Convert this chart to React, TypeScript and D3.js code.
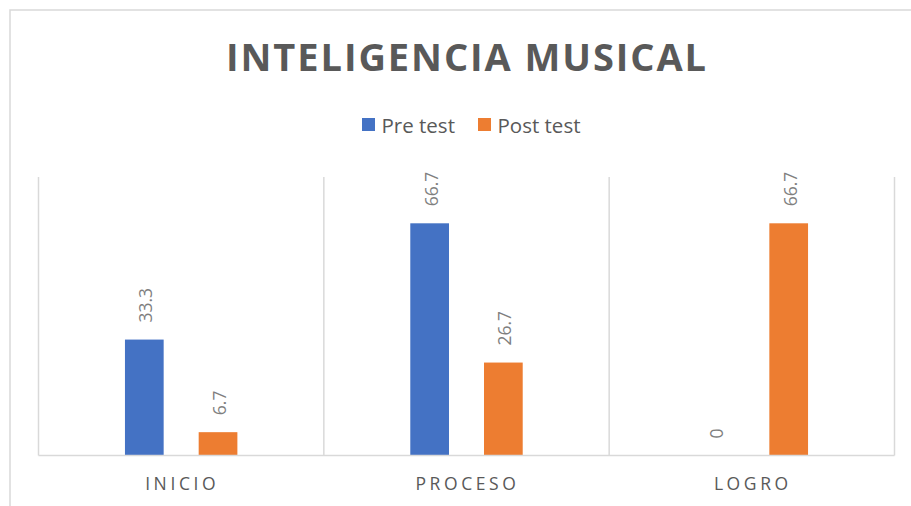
import React from "react";
import * as d3 from "d3";

const categories = ["INICIO", "PROCESO", "LOGRO"];
const seriesNames = ["Pre test", "Post test"];
const preTest = [33.3, 66.7, 0];
const postTest = [6.7, 26.7, 66.7];
const seriesColors = ["#4472C4", "#ED7D31"];
const yMax = 80;

const W = 911;
const H = 506;
const plotLeft = 38.5;
const plotRight = 894.5;
const plotTop = 177;
const plotBottom = 455.5;
const textColor = "#595959";
const labelColor = "#7F7F7F";
const gridColor = "#D9D9D9";
const font = "'Open Sans', 'Noto Sans', sans-serif";

export default function App() {
  const x0 = d3.scaleBand<string>().domain(categories).range([plotLeft, plotRight]).padding(0);
  const y = d3.scaleLinear().domain([0, yMax]).range([plotBottom, plotTop]);
  const bw0 = x0.bandwidth();
  const groupFrac = 0.394;
  const values = [preTest, postTest];

  const boundaries = [...categories.map((c) => x0(c) as number), plotRight];

  return (
    <svg width={W} height={H} style={{ position: "absolute", left: 0, top: 0, background: "#fff" }}>
      <rect x={10} y={10} width={W} height={H} fill="#fff" stroke={gridColor} strokeWidth={1.5} />
      <text
        x={466}
        y={71}
        textAnchor="middle"
        fontFamily={font}
        fontWeight={700}
        fontSize={38}
        fill={textColor}
        textLength={480}
        lengthAdjust="spacing"
      >
        INTELIGENCIA MUSICAL
      </text>
      {/* legend */}
      <g fontFamily={font} fontSize={20.5} fill={textColor}>
        <rect x={362} y={118} width={13} height={13} fill={seriesColors[0]} />
        <text x={381.5} y={132.5}>{seriesNames[0]}</text>
        <rect x={478} y={118} width={13} height={13} fill={seriesColors[1]} />
        <text x={497.5} y={132.5}>{seriesNames[1]}</text>
      </g>
      {/* gridlines */}
      {boundaries.map((bx, i) => (
        <line key={i} x1={bx} x2={bx} y1={plotTop} y2={plotBottom} stroke={gridColor} strokeWidth={1.5} />
      ))}
      {/* bars */}
      {categories.map((c, ci) => {
        const gx = (x0(c) as number) + (bw0 * (1 - groupFrac)) / 2;
        const x1 = d3
          .scaleBand<string>()
          .domain(seriesNames)
          .range([gx, gx + bw0 * groupFrac])
          .paddingInner(0.475)
          .paddingOuter(0);
        return (
          <g key={c}>
            {seriesNames.map((s, si) => {
              const v = values[si][ci];
              const bx = x1(s) as number;
              const bwid = x1.bandwidth();
              const top = y(v);
              const cx = bx + bwid / 2 + 1;
              const ly = top - 17;
              return (
                <g key={s}>
                  {v > 0 && (
                    <rect x={bx} y={top} width={bwid} height={plotBottom - top} fill={seriesColors[si]} />
                  )}
                  <text
                    transform={`translate(${cx},${ly}) rotate(-90)`}
                    textAnchor="start"
                    dominantBaseline="central"
                    fontFamily={font}
                    fontSize={17.5}
                    fill={labelColor}
                  >
                    {String(v)}
                  </text>
                </g>
              );
            })}
          </g>
        );
      })}
      {/* axis line */}
      <line x1={plotLeft} x2={plotRight} y1={plotBottom} y2={plotBottom} stroke={gridColor} strokeWidth={1.5} />
      {/* category labels */}
      {categories.map((c) => (
        <text
          key={c}
          x={(x0(c) as number) + bw0 / 2 + 1}
          y={490}
          textAnchor="middle"
          fontFamily={font}
          fontSize={17.5}
          fill={textColor}
          letterSpacing={3.6}
        >
          {c}
        </text>
      ))}
    </svg>
  );
}
